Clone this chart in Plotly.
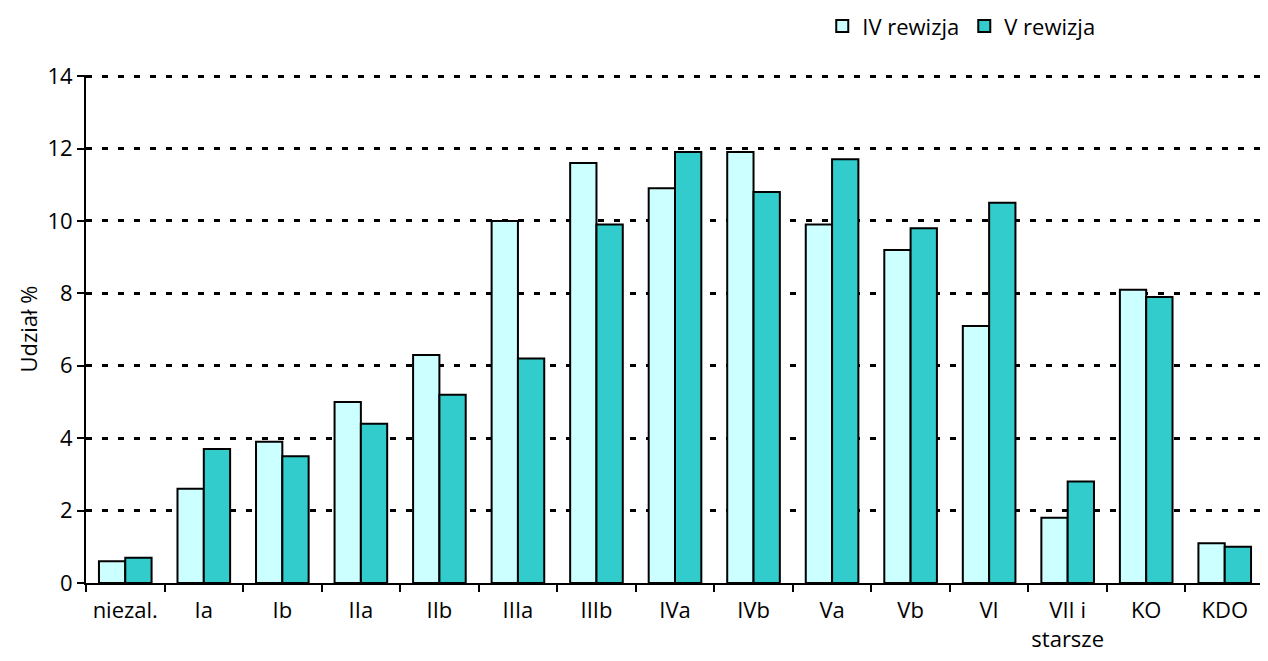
import plotly.graph_objects as go

categories = ["niezal.", "Ia", "Ib", "IIa", "IIb", "IIIa", "IIIb", "IVa", "IVb",
              "Va", "Vb", "VI", "VII i<br>starsze", "KO", "KDO"]
rew_iv = [0.6, 2.6, 3.9, 5.0, 6.3, 10.0, 11.6, 10.9, 11.9, 9.9, 9.2, 7.1, 1.8, 8.1, 1.1]
rew_v = [0.7, 3.7, 3.5, 4.4, 5.2, 6.2, 9.9, 11.9, 10.8, 11.7, 9.8, 10.5, 2.8, 7.9, 1.0]
yticks = [0, 2, 4, 6, 8, 10, 12, 14]

font = "'Open Sans', 'Noto Sans', sans-serif"
fs = 22

fig = go.Figure()
fig.add_trace(go.Bar(name="IV rewizja", x=categories, y=rew_iv,
                     marker=dict(color="#CCFFFF", line=dict(color="black", width=2))))
fig.add_trace(go.Bar(name="V rewizja", x=categories, y=rew_v,
                     marker=dict(color="#33CCCC", line=dict(color="black", width=2))))

fig.update_layout(
    width=1260, height=653,
    margin=dict(l=78, r=4, t=67, b=78, autoexpand=False),
    paper_bgcolor="white", plot_bgcolor="white",
    barmode="group", bargap=0.33, bargroupgap=0,
    font=dict(family=font, size=fs, color="black"),
    legend=dict(orientation="h", x=0.625, y=1.096, xanchor="left", yanchor="middle",
                font=dict(size=fs), itemwidth=30, traceorder="normal",
                tracegroupgap=0, itemclick=False),
    showlegend=True,
)
fig.update_xaxes(
    type="category", tickson="boundaries", ticks="outside", ticklen=7,
    tickwidth=2, tickcolor="black", showline=True, linecolor="black", linewidth=2,
    showgrid=False, tickfont=dict(size=fs), ticklabelstandoff=7, tickangle=0,
)
fig.update_yaxes(
    range=[0, 14.03], tickvals=yticks, ticks="outside", ticklen=7, tickwidth=2,
    tickcolor="black", showline=True, linecolor="black", linewidth=2,
    showgrid=True, gridcolor="black", gridwidth=2.5, griddash="6px,10px",
    zeroline=False, tickfont=dict(size=fs),
    title=dict(text="Udział %", font=dict(size=fs), standoff=4),
)

fig.write_html("out.html")
